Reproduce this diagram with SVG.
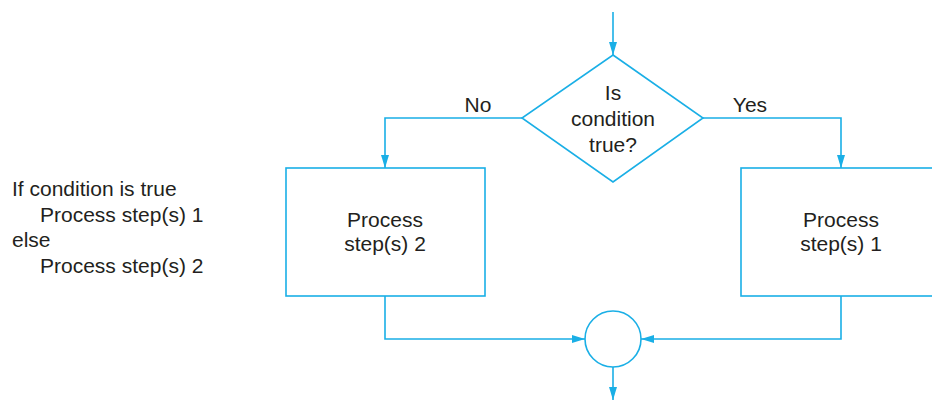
<svg xmlns="http://www.w3.org/2000/svg" width="932" height="401" viewBox="0 0 932 401">
<defs>
<style>
.ln{fill:none;stroke:#1aafe6;stroke-width:1.6}
.sh{fill:#fff;stroke:#1aafe6;stroke-width:1.6}
text{font-family:"Liberation Sans",Arial,sans-serif;font-size:21px;fill:#231f20}
.c{text-anchor:middle}
</style>
<marker id="ah" viewBox="0 0 13 8" refX="13" refY="4" markerWidth="13" markerHeight="8" markerUnits="userSpaceOnUse" orient="auto">
<path d="M0,0 L13,4 L0,8 Z" fill="#1aafe6"/>
</marker>
</defs>
<rect width="932" height="401" fill="#fff"/>
<g id="connectors">
<path class="ln" d="M613,12 V55" marker-end="url(#ah)"/>
<path class="ln" d="M522,118 H385 V168" marker-end="url(#ah)"/>
<path class="ln" d="M703,118 H841 V168" marker-end="url(#ah)"/>
<path class="ln" d="M385,296 V339 H585" marker-end="url(#ah)"/>
<path class="ln" d="M841,296 V339 H641" marker-end="url(#ah)"/>
<path class="ln" d="M613,367 V400" marker-end="url(#ah)"/>
</g>
<g id="decision">
<polygon class="sh" points="613,55 703,118 613,182 522,118"/>
<text class="c" x="613" y="100">Is</text>
<text class="c" x="613" y="126">condition</text>
<text class="c" x="613" y="152">true?</text>
</g>
<g id="label-no"><text class="c" x="478" y="112">No</text></g>
<g id="label-yes"><text class="c" x="750" y="112">Yes</text></g>
<g id="process2">
<rect class="sh" x="286" y="168" width="199" height="128"/>
<text class="c" x="385" y="227">Process</text>
<text class="c" x="385" y="251">step(s) 2</text>
</g>
<g id="process1">
<rect class="sh" x="741" y="168" width="200" height="128"/>
<text class="c" x="841" y="227">Process</text>
<text class="c" x="841" y="251">step(s) 1</text>
</g>
<g id="merge">
<circle class="sh" cx="613" cy="339" r="28"/>
</g>
<g id="pseudocode">
<text x="12" y="196">If condition is true</text>
<text x="40" y="222">Process step(s) 1</text>
<text x="12" y="247">else</text>
<text x="40" y="273">Process step(s) 2</text>
</g>
</svg>
